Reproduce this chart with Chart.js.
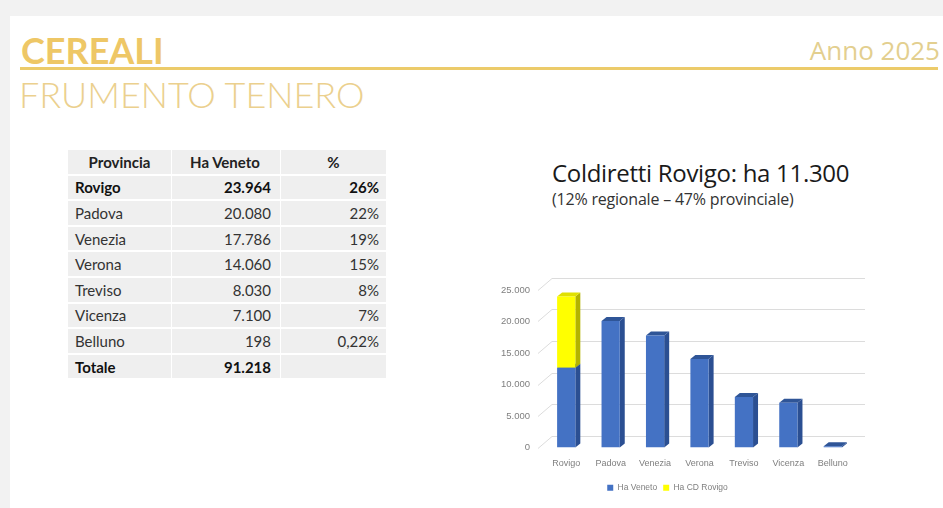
<!DOCTYPE html>
<html lang="it">
<head>
<meta charset="utf-8">
<script src="https://cdn.jsdelivr.net/npm/chart.js@4/dist/chart.umd.min.js"></script>
<style>
  html, body { margin: 0; padding: 0; }
  body { width: 943px; height: 508px; background: #f2f2f2; position: relative; overflow: hidden; font-family: Lato, 'Liberation Sans', sans-serif; }
  .slide { position: absolute; left: 10px; top: 16px; width: 933px; height: 492px; background: #fff; }
  .h1 { position: absolute; left: 21px; top: 28px; font: 700 36px Lato, sans-serif; color: #eec766; letter-spacing: 0px; }
  .anno { position: absolute; right: 3px; top: 32px; font: 400 26px 'Open Sans', sans-serif; color: #e3cf8f; }
  .rule { position: absolute; left: 20px; top: 67px; width: 918px; height: 3px; background: #eccb6a; }
  .h2 { position: absolute; left: 19px; top: 72px; font: 300 36px Lato, sans-serif; color: #ebd08e; }
  table { position: absolute; left: 67px; top: 148px; border-collapse: separate; border-spacing: 1px 2px; font: 400 15px Lato, sans-serif; color: #333; }
  td { background: #efefef; height: 23.6px; padding: 0 7px; }
  td.c1 { width: 89px; }
  td.c2 { width: 92px; text-align: right; padding-right: 9px; }
  td.c3 { width: 91px; text-align: right; }
  tr.hd td { font-weight: 700; text-align: center; color: #222; }
  tr.b td { font-weight: 700; color: #111; }
  .ctitle { position: absolute; left: 552px; top: 156px; font: 400 24px 'Open Sans', sans-serif; color: #1a1a1a; letter-spacing: -0.3px; }
  .csub { position: absolute; left: 552px; top: 188px; font: 400 16px 'Open Sans', sans-serif; color: #333; letter-spacing: -0.2px; }
  #wrap { position: absolute; left: 480px; top: 270px; width: 400px; height: 234px; }
</style>
</head>
<body>
<div class="slide"></div>
<div class="h1">CEREALI</div>
<div class="anno">Anno 2025</div>
<div class="rule"></div>
<div class="h2">FRUMENTO TENERO</div>

<table>
  <tr class="hd"><td class="c1">Provincia</td><td class="c2" style="text-align:center">Ha Veneto</td><td class="c3" style="text-align:center">%</td></tr>
  <tr class="b"><td class="c1">Rovigo</td><td class="c2">23.964</td><td class="c3">26%</td></tr>
  <tr><td class="c1">Padova</td><td class="c2">20.080</td><td class="c3">22%</td></tr>
  <tr><td class="c1">Venezia</td><td class="c2">17.786</td><td class="c3">19%</td></tr>
  <tr><td class="c1">Verona</td><td class="c2">14.060</td><td class="c3">15%</td></tr>
  <tr><td class="c1">Treviso</td><td class="c2">8.030</td><td class="c3">8%</td></tr>
  <tr><td class="c1">Vicenza</td><td class="c2">7.100</td><td class="c3">7%</td></tr>
  <tr><td class="c1">Belluno</td><td class="c2">198</td><td class="c3">0,22%</td></tr>
  <tr class="b"><td class="c1">Totale</td><td class="c2">91.218</td><td class="c3"></td></tr>
</table>

<div class="ctitle">Coldiretti Rovigo: ha 11.300</div>
<div class="csub">(12% regionale – 47% provinciale)</div>

<div id="wrap"><canvas id="chart"></canvas></div>

<script>
// data
const provinces = ['Rovigo', 'Padova', 'Venezia', 'Verona', 'Treviso', 'Vicenza', 'Belluno'];
const haVeneto = [12664, 20080, 17786, 14060, 8030, 7100, 198];   // Rovigo: 23.964 - 11.300
const haCdRovigo = [11300, null, null, null, null, null, null];
const yTicks = [0, 5000, 10000, 15000, 20000, 25000];

const fmt = v => String(v).replace(/\B(?=(\d{3})+(?!\d))/g, '.');

// fake 3D: back-wall gridlines, then side and top faces behind the front faces
const depth = { dx: 5, dy: -4 };
const sideColors = ['#2b4f92', '#b3b300'];
const topColors = ['#2f5597', '#e0e000'];

const pseudo3d = {
  id: 'pseudo3d',
  beforeDatasetsDraw(chart) {
    const { ctx, chartArea: a, scales: { y } } = chart;
    ctx.save();
    ctx.strokeStyle = '#dcdcdc';
    ctx.lineWidth = 1;
    y.ticks.forEach(t => {
      const py = Math.round(y.getPixelForValue(t.value)) + 0.5;
      ctx.beginPath();
      ctx.moveTo(a.left - 6, py);
      ctx.lineTo(a.left + 8, py - 12);
      ctx.lineTo(a.right + 10, py - 12);
      ctx.stroke();
    });

    chart.data.datasets.forEach((ds, di) => {
      const meta = chart.getDatasetMeta(di);
      meta.data.forEach((bar, i) => {
        if (ds.data[i] == null) return;
        const { x, y: top, base, width } = bar.getProps(['x', 'y', 'base', 'width'], true);
        const l = x - width / 2, r = x + width / 2;
        ctx.fillStyle = sideColors[di];
        ctx.beginPath();
        ctx.moveTo(r, top);
        ctx.lineTo(r + depth.dx, top + depth.dy);
        ctx.lineTo(r + depth.dx, base + depth.dy);
        ctx.lineTo(r, base);
        ctx.closePath();
        ctx.fill();
        ctx.fillStyle = topColors[di];
        ctx.beginPath();
        ctx.moveTo(l, top);
        ctx.lineTo(l + depth.dx, top + depth.dy);
        ctx.lineTo(r + depth.dx, top + depth.dy);
        ctx.lineTo(r, top);
        ctx.closePath();
        ctx.fill();
      });
    });
    ctx.restore();
  }
};

const tickFont = { family: "'Liberation Sans', sans-serif", size: 9 };

new Chart(document.getElementById('chart'), {
  type: 'bar',
  data: {
    labels: provinces,
    datasets: [
      {
        label: 'Ha Veneto',
        data: haVeneto,
        backgroundColor: '#4472c4',
        borderWidth: 0,
        barPercentage: 0.41,
        categoryPercentage: 1,
      },
      {
        label: 'Ha CD Rovigo',
        data: haCdRovigo,
        backgroundColor: '#ffff00',
        borderWidth: 0,
        barPercentage: 0.41,
        categoryPercentage: 1,
      },
    ],
  },
  options: {
    responsive: true,
    maintainAspectRatio: false,
    animation: false,
    layout: { padding: { top: 20, right: 25, left: 0, bottom: 2 } },
    plugins: {
      legend: {
        position: 'bottom',
        labels: {
          color: '#7f7f7f',
          font: { family: "'Liberation Sans', sans-serif", size: 8.5 },
          boxWidth: 6,
          boxHeight: 6,
          padding: 6,
        },
      },
      tooltip: { enabled: false },
    },
    scales: {
      x: {
        stacked: true,
        grid: { display: false, drawTicks: false },
        border: { display: false },
        ticks: { color: '#7f7f7f', font: tickFont, padding: 11 },
        afterFit: s => { s.height = 30; },
      },
      y: {
        stacked: true,
        min: 0,
        max: 25000,
        afterBuildTicks: s => { s.ticks = yTicks.map(v => ({ value: v })); },
        grid: { display: false, drawTicks: false },
        border: { display: false },
        ticks: { color: '#7f7f7f', font: { family: "'Liberation Sans', sans-serif", size: 9.5 }, padding: 14, callback: v => fmt(v) },
        afterFit: s => { s.width = 64; },
      },
    },
  },
  plugins: [pseudo3d],
});
</script>
</body>
</html>
